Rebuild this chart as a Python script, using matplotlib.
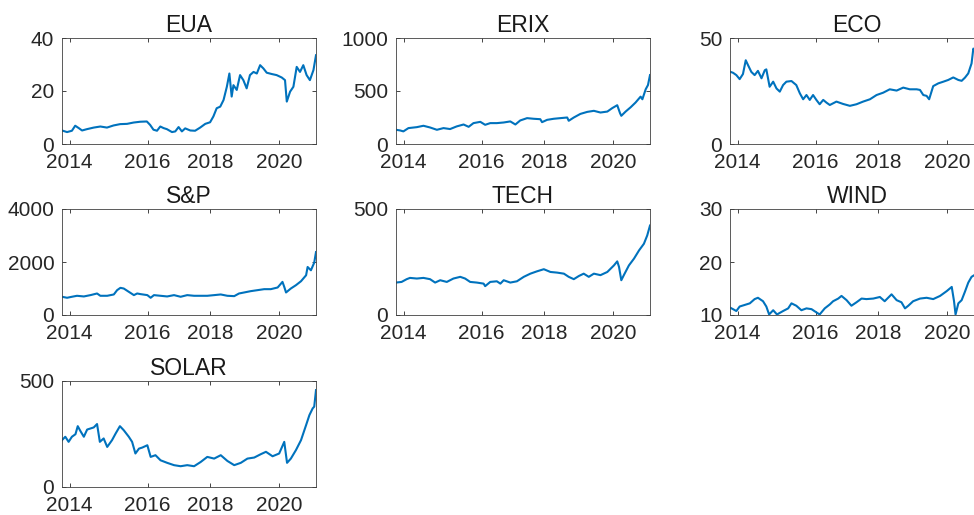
import matplotlib.pyplot as plt

plt.rcParams['font.family'] = ['Liberation Sans', 'DejaVu Sans']

# x is the observation position (0 = first obs, 100 = last obs)
year_ticks = [3.0, 33.7, 58.4, 85.4]
year_labels = ['2014', '2016', '2018', '2020']

eua_x = [0, 2.0, 3.9, 5.2, 6.6, 7.9, 9.8, 12.5, 15.1, 17.7, 20.3, 22.9, 25.6, 28.2, 30.8,
         33.4, 34.7, 36.0, 37.4, 38.7, 40.0, 41.3, 43.3, 44.6, 45.9, 47.2, 48.5, 50.5,
         52.4, 54.4, 56.4, 58.3, 59.6, 60.9, 62.3, 63.6, 64.9, 65.9, 66.8, 67.5, 68.8,
         70.1, 71.4, 72.7, 74.0, 75.4, 76.7, 78.0, 79.3, 80.6, 82.6, 84.5, 86.5, 87.8,
         88.5, 89.8, 91.1, 92.4, 93.7, 95.0, 96.3, 97.6, 99.0, 100]
eua_y = [5.1, 4.5, 5.0, 6.9, 6.0, 5.1, 5.6, 6.2, 6.6, 6.2, 7.0, 7.5, 7.6, 8.1, 8.4,
         8.5, 7.2, 5.4, 5.0, 6.6, 6.0, 5.6, 4.5, 4.75, 6.4, 4.75, 5.9, 5.1,
         5.0, 6.2, 7.6, 8.2, 10.4, 13.5, 14.1, 16.6, 21.6, 26.6, 17.9, 22.2, 20.4,
         26.0, 24.1, 21.0, 26.0, 27.2, 26.6, 29.75, 28.5, 26.9, 26.4, 26.0, 25.1, 24.1,
         16.0, 19.75, 21.6, 29.1, 27.2, 29.75, 26.0, 24.1, 27.9, 33.5]

erix_x = [0, 1.6, 2.9, 4.9, 8.2, 10.8, 13.4, 16.1, 18.7, 21.3, 23.9, 26.6, 28.6, 30.5,
          33.2, 35.1, 37.1, 39.7, 42.4, 45.0, 47.0, 48.9, 51.6, 54.2, 56.8, 57.5, 59.5,
          62.1, 64.7, 67.4, 68.0, 70.0, 72.6, 75.3, 77.9, 80.5, 83.2, 85.1, 87.1, 88.2,
          88.7, 90.4, 92.4, 94.3, 96.3, 97.0, 98.3, 99.2, 100]
erix_y = [134, 128, 119, 150, 159, 172, 156, 134, 150, 141, 166, 184, 162, 197,
          209, 181, 197, 197, 203, 213, 184, 222, 244, 238, 234, 206, 228,
          238, 244, 250, 219, 250, 284, 303, 313, 297, 306, 338, 366, 291,
          266, 306, 347, 391, 447, 422, 516, 556, 650]

eco_x = [0, 1.2, 2.5, 3.8, 5.1, 6.2, 7.1, 8.4, 9.7, 11.0, 12.4, 13.7, 14.3, 15.6, 17.0,
         18.3, 19.6, 20.9, 22.2, 24.2, 26.1, 27.5, 28.8, 30.1, 31.4, 32.7, 34.0, 35.3,
         36.7, 38.0, 39.3, 41.9, 44.5, 47.2, 49.8, 52.4, 55.1, 57.7, 60.3, 62.9, 65.6,
         68.2, 70.8, 73.5, 74.8, 76.1, 77.4, 78.4, 80.0, 82.0, 84.0, 85.9, 87.9, 89.9,
         91.2, 92.5, 93.8, 95.1, 95.8, 97.0, 98.5, 100]
eco_y = [34.1, 33.6, 32.5, 30.6, 33.0, 39.5, 37.2, 34.0, 32.5, 34.5, 31.0, 34.8, 35.2, 27.0, 29.4,
         26.2, 24.7, 27.8, 29.4, 29.7, 27.8, 23.9, 21.1, 23.1, 20.8, 23.1, 20.8, 18.75,
         20.8, 19.5, 18.4, 20.0, 18.9, 18.0, 18.75, 20.0, 21.1, 23.1, 24.2, 25.8, 25.2,
         26.6, 25.8, 25.8, 25.5, 23.1, 22.7, 21.1, 27.3, 28.6, 29.4, 30.2, 31.4, 30.2,
         29.8, 31.3, 33.3, 38.0, 45.0, 43.0, 45.5, 47.0]

sp_x = [0, 2.0, 3.9, 5.9, 8.6, 11.2, 13.8, 15.1, 17.8, 20.4, 21.7, 23.0, 24.3, 26.3, 28.3,
        29.6, 30.9, 33.6, 34.9, 36.2, 38.8, 41.4, 44.1, 46.7, 49.3, 52.0, 54.6, 57.2,
        59.9, 62.5, 65.1, 67.8, 69.7, 71.7, 74.3, 77.0, 79.6, 82.2, 84.9, 86.8, 87.5,
        88.2, 90.1, 92.1, 94.1, 96.1, 96.7, 98.0, 99.3, 100]
sp_y = [688, 650, 688, 725, 700, 750, 812, 725, 725, 775, 938, 1025, 1000, 875, 750,
        812, 788, 750, 650, 750, 725, 700, 750, 688, 750, 725, 725, 725,
        750, 775, 725, 712, 812, 850, 900, 938, 975, 975, 1038, 1250, 1062,
        850, 1000, 1125, 1275, 1500, 1812, 1688, 1975, 2375]

tech_x = [0, 2.2, 4.2, 5.5, 8.2, 10.8, 13.4, 15.4, 17.4, 20.0, 22.6, 25.3, 27.2, 29.2,
          31.8, 34.5, 35.1, 37.1, 39.7, 41.1, 42.4, 45.0, 47.6, 50.3, 52.9, 55.5, 58.2,
          60.8, 63.4, 66.1, 68.0, 70.0, 72.0, 73.9, 75.9, 77.9, 80.5, 83.2, 85.8, 87.1,
          87.8, 88.7, 89.7, 91.7, 93.7, 95.7, 97.6, 98.9, 100]
tech_y = [153, 156, 169, 175, 172, 175, 169, 153, 164, 156, 172, 180, 172, 156,
          153, 148, 136, 156, 159, 148, 164, 153, 159, 180, 195, 206, 216,
          203, 200, 195, 180, 169, 184, 195, 180, 195, 188, 203, 234, 253,
          227, 164, 188, 234, 266, 305, 336, 375, 422]

wind_x = [0, 1.2, 2.5, 3.8, 5.8, 7.8, 9.7, 11.0, 13.0, 14.3, 15.4, 17.0, 18.5, 20.9, 22.9,
          24.2, 26.1, 28.1, 30.1, 32.1, 34.0, 35.3, 37.3, 39.3, 40.6, 42.6, 43.9, 45.9,
          47.8, 49.8, 51.8, 53.7, 56.4, 59.0, 60.9, 63.6, 65.6, 67.5, 68.9, 70.2, 72.1,
          74.8, 77.4, 80.0, 82.7, 85.3, 87.3, 88.2, 88.8, 89.9, 91.2, 92.5, 93.8, 95.1,
          96.1, 98.0, 100]
wind_y = [11.4, 11.1, 10.75, 11.6, 11.9, 12.2, 13.0, 13.25, 12.6, 11.6, 10.1, 10.9, 10.1, 10.75, 11.25,
          12.2, 11.75, 10.9, 11.25, 11.1, 10.5, 10.1, 11.25, 12.0, 12.6, 13.1, 13.6, 12.8,
          11.75, 12.4, 13.1, 13.0, 13.1, 13.4, 12.6, 13.9, 12.8, 12.4, 11.25, 11.75, 12.6,
          13.1, 13.25, 13.0, 13.6, 14.5, 15.3, 12.6, 10.1, 12.2, 12.8, 14.4, 16.1, 17.2,
          17.5, 17.8, 17.3]

solar_x = [0, 1.3, 2.6, 3.9, 5.3, 6.2, 7.2, 8.6, 9.9, 11.2, 12.5, 13.8, 14.9, 16.4, 17.8,
           19.7, 21.1, 22.8, 24.3, 26.3, 27.6, 28.9, 30.3, 31.6, 33.6, 34.9, 36.8, 38.8,
           41.4, 44.1, 46.7, 49.3, 52.0, 54.6, 57.2, 59.9, 62.5, 65.1, 67.8, 70.4, 73.0,
           75.7, 78.3, 80.3, 82.9, 85.5, 87.5, 88.6, 90.1, 92.1, 94.1, 96.1, 97.4, 98.7,
           99.3, 100]
solar_y = [221, 237, 213, 237, 249, 287, 265, 237, 271, 276, 281, 297, 213, 229, 189,
           221, 252, 287, 268, 237, 213, 158, 181, 186, 197, 142, 150, 126,
           114, 103, 98, 103, 98, 118, 142, 134, 150, 123, 103, 114, 134,
           139, 155, 166, 145, 158, 213, 114, 134, 174, 221, 292, 339, 371,
           379, 457]

panels = [
    ('EUA', eua_x, eua_y, (0, 40), [0, 20, 40]),
    ('ERIX', erix_x, erix_y, (0, 1000), [0, 500, 1000]),
    ('ECO', eco_x, eco_y, (0, 50), [0, 50]),
    ('S&P', sp_x, sp_y, (0, 4000), [0, 2000, 4000]),
    ('TECH', tech_x, tech_y, (0, 500), [0, 500]),
    ('WIND', wind_x, wind_y, (10, 30), [10, 20, 30]),
    ('SOLAR', solar_x, solar_y, (0, 500), [0, 500]),
]

W, H = 974, 515
col_left = [62, 396, 730]
row_top = [38, 209, 381]
ax_w, ax_h = 254, 106

fig = plt.figure(figsize=(9.74, 5.15), dpi=100)
fig.patch.set_facecolor('white')

for i, (name, xs, ys, ylim, yt) in enumerate(panels):
    r, c = divmod(i, 3)
    ax = fig.add_axes([col_left[c] / W, 1 - (row_top[r] + ax_h) / H, ax_w / W, ax_h / H])
    ax.plot(xs, ys, color='#0072BD', lw=1.5)
    ax.set_xlim(0, 100)
    ax.set_ylim(*ylim)
    ax.set_yticks(yt)
    ax.set_xticks(year_ticks)
    ax.set_xticklabels(year_labels)
    ax.set_title(name, fontsize=16.5, color='#1a1a1a', pad=4)
    ax.tick_params(direction='in', length=3, width=0.6, top=True, right=True,
                   labelsize=15, colors='#262626')
    ax.tick_params(axis='x', pad=6.5)
    ax.tick_params(axis='y', pad=5.5)
    for s in ax.spines.values():
        s.set_color('#404040')
        s.set_linewidth(0.6)

fig.savefig('out.png', dpi=100)
